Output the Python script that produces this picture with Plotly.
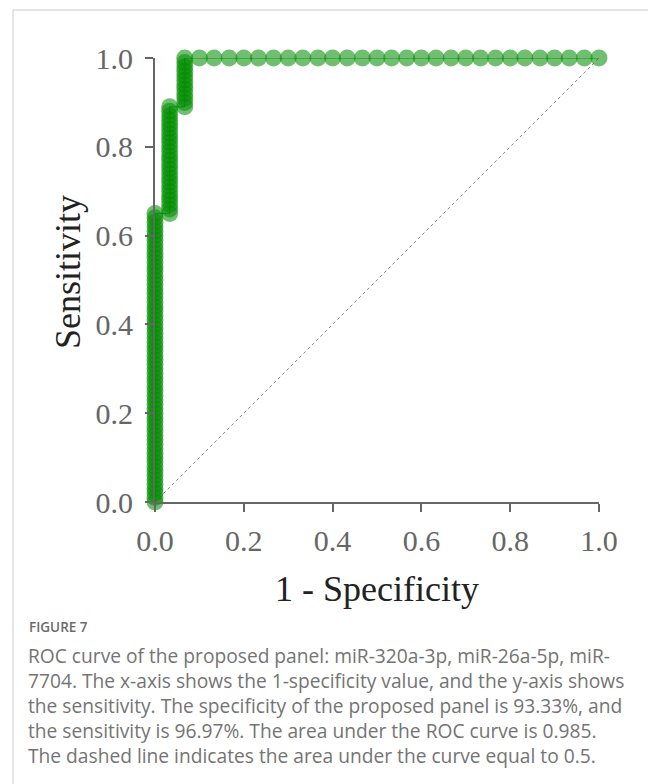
import plotly.graph_objects as go

# ROC points (1 - specificity, sensitivity)
col1_x = 0.0
col1_y = [0.00, 0.01, 0.02, 0.03, 0.04, 0.05, 0.06, 0.07, 0.08, 0.09,
          0.10, 0.11, 0.12, 0.13, 0.14, 0.15, 0.16, 0.17, 0.18, 0.19,
          0.20, 0.21, 0.22, 0.23, 0.24, 0.25, 0.26, 0.27, 0.28, 0.29,
          0.30, 0.31, 0.32, 0.33, 0.34, 0.35, 0.36, 0.37, 0.38, 0.39,
          0.40, 0.41, 0.42, 0.43, 0.44, 0.45, 0.46, 0.47, 0.48, 0.49,
          0.50, 0.51, 0.52, 0.53, 0.54, 0.55, 0.56, 0.57, 0.58, 0.59,
          0.60, 0.61, 0.62, 0.63, 0.64, 0.65]
col2_x = 0.033
col2_y = [0.65, 0.66, 0.67, 0.68, 0.69, 0.70, 0.71, 0.72, 0.73, 0.74,
          0.75, 0.76, 0.77, 0.78, 0.79, 0.80, 0.81, 0.82, 0.83, 0.84,
          0.85, 0.86, 0.87, 0.88, 0.89]
col3_x = 0.067
col3_y = [0.89, 0.90, 0.91, 0.92, 0.93, 0.94, 0.95, 0.96, 0.97, 0.98,
          0.99, 1.00]
top_x = [0.100, 0.133, 0.167, 0.200, 0.233, 0.267, 0.300, 0.333, 0.367,
         0.400, 0.433, 0.467, 0.500, 0.533, 0.567, 0.600, 0.633, 0.667,
         0.700, 0.733, 0.767, 0.800, 0.833, 0.867, 0.900, 0.933, 0.967, 1.000]
top_y = 1.0

tick_vals = [0.0, 0.2, 0.4, 0.6, 0.8, 1.0]
tick_text = ["0.0", "0.2", "0.4", "0.6", "0.8", "1.0"]

fpr = ([col1_x] * len(col1_y) + [col2_x] * len(col2_y) +
       [col3_x] * len(col3_y) + top_x)
tpr = col1_y + col2_y + col3_y + [top_y] * len(top_x)

x_title = "1 - Specificity"
y_title = "Sensitivity"
caption_title = "FIGURE 7"
caption_lines = [
    "ROC curve of the proposed panel: miR-320a-3p, miR-26a-5p, miR-",
    "7704. The x-axis shows the 1-specificity value, and the y-axis shows",
    "the sensitivity. The specificity of the proposed panel is 93.33%, and",
    "the sensitivity is 96.97%. The area under the ROC curve is 0.985.",
    "The dashed line indicates the area under the curve equal to 0.5.",
]

# page body has an 8px margin, so the figure is shifted by 8px
OFF = 8
W, H = 656 - OFF, 784 - OFF
L, T, PW, PH = 155 - OFF, 58 - OFF, 444, 444
R, B = W - L - PW, H - T - PH


def px(x):  # x in reference page pixels -> paper
    return (x - OFF - L) / PW


def py(y):  # y in reference page pixels -> paper
    return (T + PH - (y - OFF)) / PH


fig = go.Figure()
fig.add_trace(go.Scatter(
    x=[0, 1], y=[0, 1], mode="lines",
    line=dict(color="#8a8a8a", width=1, dash="dot"),
    hoverinfo="skip", showlegend=False, cliponaxis=False))
fig.add_trace(go.Scatter(
    x=fpr, y=tpr, mode="lines+markers",
    line=dict(color="rgba(0,110,0,0.8)", width=1),
    marker=dict(size=17, color="rgba(0,140,0,0.56)", line=dict(width=0)),
    showlegend=False, cliponaxis=False))

tick_font = dict(family="Liberation Serif", size=30, color="#666666")
axis_common = dict(
    range=[0, 1], showgrid=False, zeroline=False,
    showline=True, linecolor="#666666", linewidth=2,
    ticks="outside", ticklen=8, tickwidth=2, tickcolor="#666666",
    tickvals=tick_vals, ticktext=tick_text, tickfont=tick_font,
)

fig.update_layout(
    width=W, height=H,
    margin=dict(l=L, r=R, t=T, b=B, pad=0),
    paper_bgcolor="white", plot_bgcolor="white",
    xaxis=dict(**axis_common, ticklabelstandoff=3,
               title=dict(text=x_title, standoff=20,
                          font=dict(family="Liberation Serif", size=36,
                                    color="#222222"))),
    yaxis=dict(**axis_common, ticklabelstandoff=6),
)

fig.add_shape(type="rect", xref="paper", yref="paper",
              x0=px(13), x1=px(655), y0=py(800), y1=py(10),
              line=dict(color="#cccccc", width=1), fillcolor="rgba(0,0,0,0)",
              layer="below")

annotations = [
    dict(text=y_title, xref="paper", yref="paper", x=px(68), y=py(272),
         xanchor="center", yanchor="middle", textangle=-90, showarrow=False,
         font=dict(family="Liberation Serif", size=36, color="#222222")),
    dict(text=caption_title, xref="paper", yref="paper",
         x=px(27), y=py(627), xanchor="left", yanchor="middle",
         showarrow=False,
         font=dict(family="Open Sans", size=13.5, weight=600,
                   color="#6b6b6b")),
    dict(text="<br>".join(caption_lines), xref="paper", yref="paper",
         x=px(26), y=py(640), xanchor="left", yanchor="top", align="left",
         showarrow=False,
         font=dict(family="Open Sans", size=19.2, color="#747474")),
]
fig.update_layout(annotations=annotations)

fig.write_html("out.html")
